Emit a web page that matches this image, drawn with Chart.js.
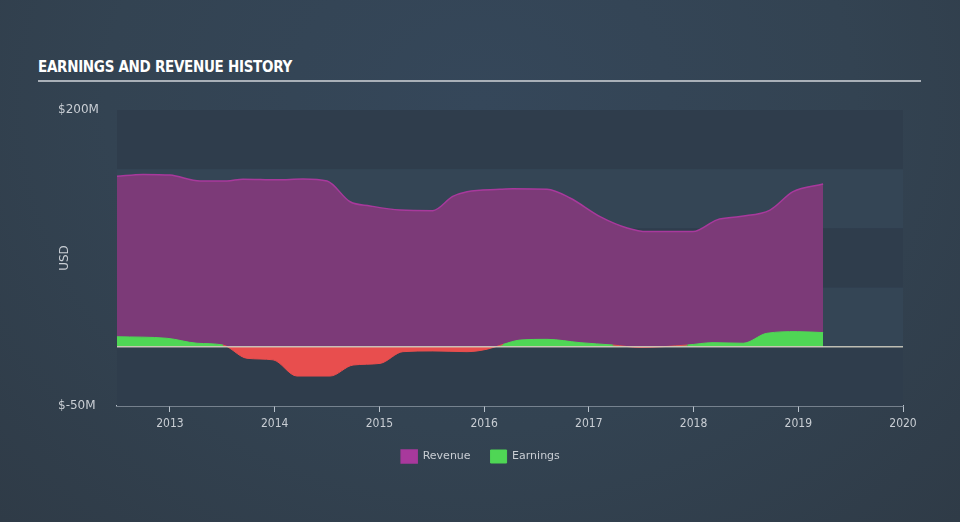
<!DOCTYPE html>
<html>
<head>
<meta charset="utf-8">
<script src="https://cdn.jsdelivr.net/npm/chart.js@4"></script>
<style>
  html, body { margin: 0; padding: 0; }
  body {
    width: 960px; height: 522px; overflow: hidden; position: relative;
    background: radial-gradient(ellipse at 50% 20%, #35475a 0%, #334352 55%, #2f3b47 100%);
    font-family: "DejaVu Sans Condensed", "DejaVu Sans", sans-serif;
  }
  #title {
    position: absolute; left: 38px; top: 58px;
    color: #ffffff; font-weight: bold; font-size: 15px; letter-spacing: -0.3px;
    font-family: "DejaVu Sans Condensed", "Liberation Sans Narrow", sans-serif;
  }
  #rule {
    position: absolute; left: 38px; top: 80px; width: 883px; height: 2px; background: #a9b0b8;
  }
  #wrap { position: absolute; left: 0; top: 0; width: 960px; height: 522px; }
</style>
</head>
<body>
<div id="title">EARNINGS AND REVENUE HISTORY</div>
<div id="rule"></div>
<div id="wrap"><canvas id="chart1"></canvas></div>
<script>
// decimal years
const revenueYears = [2012.494, 2012.742, 2013.0, 2013.287, 2013.544, 2013.697, 2014.022, 2014.27, 2014.5, 2014.72, 2014.91, 2015.197, 2015.51, 2015.70, 2015.837, 2016.15, 2016.276, 2016.60, 2016.82, 2017.107, 2017.365, 2017.556, 2017.995, 2018.224, 2018.444, 2018.73, 2018.95, 2019.237];
const revenueValues = [144, 145.6, 145, 140, 140, 141.6, 141, 141.8, 140, 122.5, 119, 115.5, 115, 127, 131, 133, 133.5, 133, 125.7, 110, 100.4, 97.3, 97.3, 107.2, 110, 115.5, 131, 137.5];

const earningsYears = [2012.494, 2012.97, 2013.258, 2013.506, 2013.735, 2013.984, 2014.213, 2014.528, 2014.748, 2015.006, 2015.225, 2015.51, 2015.837, 2016.028, 2016.18, 2016.343, 2016.60, 2016.916, 2017.23, 2017.49, 2017.94, 2018.186, 2018.473, 2018.70, 2018.99, 2019.237];
const earningsValues = [8.5, 7.2, 3, 1.5, -9.7, -11, -24.7, -24.7, -15.4, -14, -4.1, -3.5, -4.1, -2, 2, 5.7, 6.3, 3.5, 1.5, -0.5, 1.5, 3.5, 3, 11.4, 12.8, 12];

const yearTicks = [2013, 2014, 2015, 2016, 2017, 2018, 2019, 2020];
const usdTicks = [-50, 0, 200];
const bandEdges = [200, 150, 100, 50, 0, -50];

function pts(xs, ys) {
    return xs.map((x, i) => ({x: x, y: ys[i]}));
}

const bands = {
    id: "bands",
    beforeDatasetsDraw(chart) {
        const ctx = chart.ctx, area = chart.chartArea, y = chart.scales.y;
        for (let i = 0; i < bandEdges.length - 1; i++) {
            const top = y.getPixelForValue(bandEdges[i]);
            const bot = y.getPixelForValue(bandEdges[i + 1]);
            ctx.fillStyle = (i % 2 === 0) ? "#2f3d4c" : "#344555";
            ctx.fillRect(area.left, top, area.right - area.left, bot - top);
        }
    },
    afterDatasetsDraw(chart) {
        const ctx = chart.ctx, area = chart.chartArea;
        const y0 = chart.scales.y.getPixelForValue(0);
        ctx.save();
        ctx.strokeStyle = "rgba(215,212,196,0.85)";
        ctx.lineWidth = 1.5;
        ctx.beginPath();
        ctx.moveTo(area.left, y0);
        ctx.lineTo(area.right, y0);
        ctx.stroke();
        ctx.restore();
    }
};

new Chart("chart1", {
    type: "line",
    data: {
        datasets: [{
            label: "Revenue",
            data: pts(revenueYears, revenueValues),
            borderColor: "#a8399c",
            backgroundColor: "#a8399c",
            borderWidth: 1.5,
            fill: {target: "origin", above: "rgba(124,58,120,1)", below: "rgba(124,58,120,1)"},
            cubicInterpolationMode: "monotone",
            pointRadius: 0,
            order: 2
        }, {
            label: "Earnings",
            data: pts(earningsYears, earningsValues),
            borderColor: "#4fd655",
            backgroundColor: "#4fd655",
            borderWidth: 1,
            segment: {
                borderColor: c => (c.p0.parsed.y < 0 || c.p1.parsed.y < 0) ? "#e84e4e" : "#4fd655"
            },
            fill: {target: "origin", above: "#4fd655", below: "#e84e4e"},
            cubicInterpolationMode: "monotone",
            pointRadius: 0,
            order: 1
        }]
    },
    options: {
        responsive: true,
        maintainAspectRatio: false,
        animation: false,
        layout: {padding: {top: 110, left: 58, right: 57, bottom: 49}},
        scales: {
            x: {
                type: "linear",
                min: 2012.494,
                max: 2020,
                afterBuildTicks: axis => { axis.ticks = yearTicks.map(v => ({value: v})); },
                afterFit: axis => { axis.height = 24; },
                grid: {drawOnChartArea: false, color: "#b9c2cc", tickLength: 6},
                border: {color: "#b9c2cc", width: 1.5},
                ticks: {
                    color: "#c9ced4",
                    font: {size: 12, family: "'DejaVu Sans Condensed', sans-serif"},
                    padding: 5,
                    maxRotation: 0,
                    callback: v => String(v)
                }
            },
            y: {
                min: -50,
                max: 200,
                afterBuildTicks: axis => { axis.ticks = usdTicks.map(v => ({value: v})); },
                afterFit: axis => { axis.width = 59; },
                grid: {display: false},
                border: {display: false},
                title: {
                    display: true,
                    text: "USD",
                    color: "#c9ced4",
                    font: {size: 12, family: "'DejaVu Sans', sans-serif"},
                    padding: 0
                },
                ticks: {
                    color: "#c9ced4",
                    font: {size: 12, family: "'DejaVu Sans', sans-serif"},
                    crossAlign: "far",
                    padding: 0,
                    callback: v => v === 0 ? "" : "$" + v + "M"
                }
            }
        },
        plugins: {
            tooltip: {enabled: false},
            legend: {
                position: "bottom",
                labels: {
                    color: "#c9ced4",
                    font: {size: 11, family: "'DejaVu Sans', sans-serif"},
                    boxWidth: 16,
                    boxHeight: 13,
                    padding: 20,
                    sort: (a, b) => a.datasetIndex - b.datasetIndex
                }
            }
        }
    },
    plugins: [bands]
});
</script>
</body>
</html>
